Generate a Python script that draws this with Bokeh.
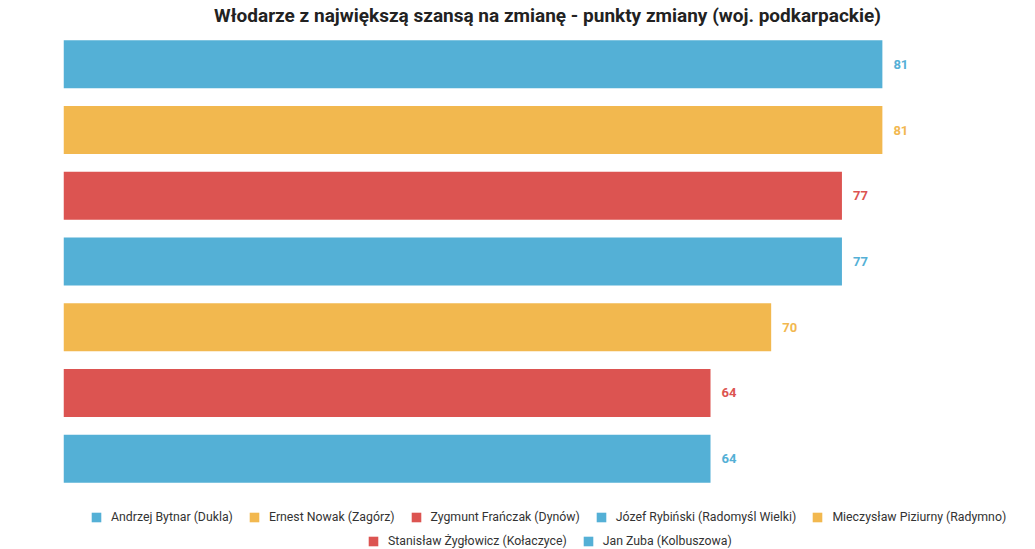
from bokeh.plotting import figure
from bokeh.models import ColumnDataSource, Range1d, Legend, LegendItem
from bokeh.core.properties import value
from bokeh.embed import file_html
from bokeh.resources import INLINE

title = "Włodarze z największą szansą na zmianę - punkty zmiany (woj. podkarpackie)"
names = [
    "Andrzej Bytnar (Dukla)",
    "Ernest Nowak (Zagórz)",
    "Zygmunt Frańczak (Dynów)",
    "Józef Rybiński (Radomyśl Wielki)",
    "Mieczysław Piziurny (Radymno)",
    "Stanisław Żygłowicz (Kołaczyce)",
    "Jan Zuba (Kolbuszowa)",
]
points = [81, 81, 77, 77, 70, 64, 64]
colors = ["#54B0D6", "#F2B84F", "#DC5451", "#54B0D6", "#F2B84F", "#DC5451", "#54B0D6"]

# rows top-to-bottom; the lower part of the frame holds the legend
p = figure(
    frame_width=968, frame_height=518,
    x_range=Range1d(0, 95.75),
    y_range=Range1d(7.382, -0.5),
    x_axis_location=None, y_axis_location=None,
    output_backend="svg", toolbar_location=None,
    min_border_left=63, min_border_right=0, min_border_top=31, min_border_bottom=0,
)
p.title.text = title
p.title.align = "center"
p.title.vertical_align = "top"
p.title.text_font = "Roboto"
p.title.text_font_size = "19px"
p.title.text_font_style = "bold"
p.title.text_color = "#222222"
p.title.standoff = 6

p.xgrid.visible = False
p.ygrid.visible = False
p.outline_line_color = None

items = []
for i, (n, v, c) in enumerate(zip(names, points, colors)):
    src = ColumnDataSource(dict(y=[i], x=[v], lab=[str(v)], name=[n]))
    r = p.hbar(y="y", right="x", left=0, height=0.73, source=src,
               fill_color=c, line_color=None)
    p.text(x="x", y="y", text="lab", source=src, x_offset=11,
           text_baseline="middle", text_align="left",
           text_font=value("Roboto"), text_font_size="13px",
           text_font_style="bold", text_color=c)
    items.append(LegendItem(label=n, renderers=[r]))

def make_legend(its, loc):
    lg = Legend(items=its, orientation="horizontal", location=loc,
                glyph_width=12, glyph_height=12, label_standoff=9, spacing=15,
                label_text_font="Roboto", label_text_font_size="12.3px",
                label_text_color="#333333", padding=0, margin=0,
                border_line_color=None, background_fill_alpha=0)
    return lg

p.add_layout(make_legend(items[:5], (27, 25)), "center")
p.add_layout(make_legend(items[5:], (304, 1)), "center")

open("out.html", "w").write(file_html(p, INLINE))
